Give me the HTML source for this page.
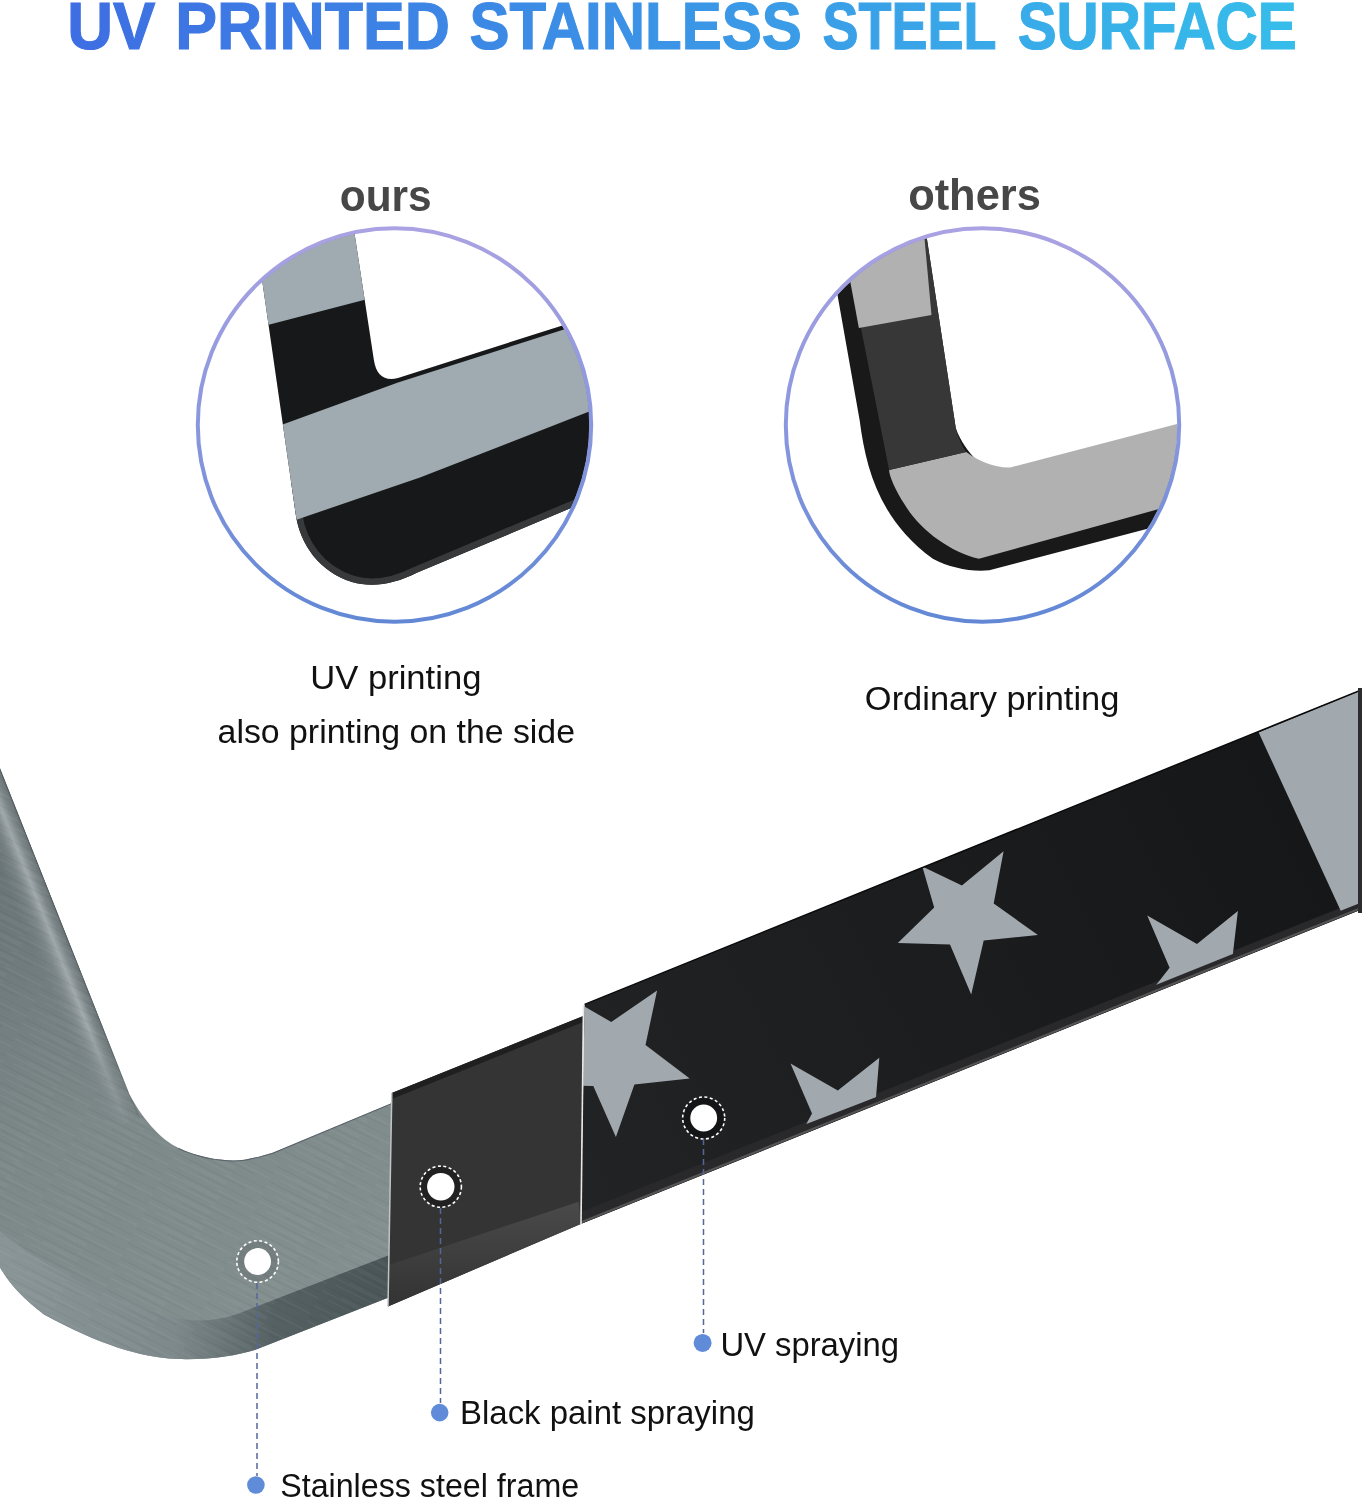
<!DOCTYPE html>
<html><head><meta charset="utf-8">
<style>
html,body{margin:0;padding:0;background:#fff;}
body{width:1362px;height:1500px;overflow:hidden;position:relative;}
svg{position:absolute;left:0;top:0;will-change:transform;}
text{font-family:"Liberation Sans",sans-serif;}
</style></head>
<body>
<svg width="1362" height="1500" viewBox="0 0 1362 1500">
<defs>
  <linearGradient id="tg" x1="70" y1="0" x2="1297" y2="0" gradientUnits="userSpaceOnUse">
    <stop offset="0" stop-color="#3e6ee3"/>
    <stop offset="0.5" stop-color="#3b95e6"/>
    <stop offset="1" stop-color="#36bdea"/>
  </linearGradient>
  <linearGradient id="cg" x1="0" y1="0" x2="0" y2="1">
    <stop offset="0" stop-color="#aaa2e2"/>
    <stop offset="0.5" stop-color="#8a97de"/>
    <stop offset="1" stop-color="#6288d5"/>
  </linearGradient>
  <clipPath id="c1"><circle cx="394.5" cy="425" r="195"/></clipPath>
  <clipPath id="c2"><circle cx="982.5" cy="425" r="195"/></clipPath>
  <clipPath id="f1"><path d="M250.6,200 L295.7,514 C300,545 320,572 352,582 C372,588 395,584 416.8,572.8 L650,474.9 L650,297.5 L398,378 C385,382 376,375 373.9,360 L349.4,200 Z"/></clipPath>
  <clipPath id="starclip"><polygon points="584.6,1004.4 1362,689.5529999999999 1362,902.1360999999999 580.7,1216"/></clipPath>
  <clipPath id="steelclip"><path id="steelpath" d="M0,768 L129.3,1094 C140,1115 160,1140 178.7,1148 C200,1158 225,1162 244.5,1159.8 C255,1158 265,1155 272.7,1152.7 L392,1103 L390,1297 L255.5,1349.7 C235,1356 210,1360 176,1359 C140,1357 100,1345 44,1314.5 C25,1300 10,1285 0,1267.5 Z"/></clipPath>
  <linearGradient id="steel" x1="0" y1="800" x2="300" y2="1300" gradientUnits="userSpaceOnUse">
    <stop offset="0" stop-color="#657072"/>
    <stop offset="0.55" stop-color="#7d8889"/>
    <stop offset="1" stop-color="#838e8f"/>
  </linearGradient>
  <linearGradient id="side" x1="0" y1="0" x2="390" y2="0" gradientUnits="userSpaceOnUse">
    <stop offset="0" stop-color="#8a9597"/>
    <stop offset="0.45" stop-color="#7e898b"/>
    <stop offset="0.7" stop-color="#566163"/>
    <stop offset="1" stop-color="#4a5557"/>
  </linearGradient>
  <linearGradient id="starbg" x1="580" y1="1200" x2="1362" y2="800" gradientUnits="userSpaceOnUse">
    <stop offset="0" stop-color="#222325"/>
    <stop offset="1" stop-color="#151618"/>
  </linearGradient>
  <linearGradient id="bpband" x1="0" y1="1200" x2="0" y2="1306" gradientUnits="userSpaceOnUse">
    <stop offset="0" stop-color="#4a4a4a"/>
    <stop offset="1" stop-color="#333"/>
  </linearGradient>
  <pattern id="brush" patternUnits="userSpaceOnUse" width="97" height="17" patternTransform="rotate(27)">
    <rect x="0" y="0" width="60" height="1" fill="#fff" fill-opacity="0.06"/>
    <rect x="30" y="3" width="67" height="1" fill="#000" fill-opacity="0.04"/>
    <rect x="10" y="6" width="50" height="1" fill="#fff" fill-opacity="0.05"/>
    <rect x="55" y="9" width="42" height="1" fill="#fff" fill-opacity="0.06"/>
    <rect x="0" y="12" width="80" height="1" fill="#000" fill-opacity="0.05"/>
    <rect x="20" y="15" width="40" height="1" fill="#fff" fill-opacity="0.05"/>
  </pattern>
  <linearGradient id="armhl" x1="60" y1="918" x2="22.8" y2="932.8" gradientUnits="userSpaceOnUse">
    <stop offset="0" stop-color="#3f4749"/>
    <stop offset="0.05" stop-color="#6d7779"/>
    <stop offset="0.2" stop-color="#7f898b"/>
    <stop offset="0.36" stop-color="#a0a8aa"/>
    <stop offset="0.6" stop-color="#8a9395" stop-opacity="0.5"/>
    <stop offset="1" stop-color="#727d7f" stop-opacity="0"/>
  </linearGradient>
  <linearGradient id="armfadeg" x1="0" y1="760" x2="0" y2="1140" gradientUnits="userSpaceOnUse">
    <stop offset="0" stop-color="#fff"/>
    <stop offset="0.7" stop-color="#fff"/>
    <stop offset="1" stop-color="#000"/>
  </linearGradient>
  <mask id="armfade" maskUnits="userSpaceOnUse" x="-50" y="700" width="300" height="500"><rect x="-50" y="700" width="300" height="500" fill="url(#armfadeg)"/></mask>
</defs>

<text x="67.13" y="49" font-size="67" font-weight="bold" fill="url(#tg)" stroke="url(#tg)" stroke-width="1.2" textLength="88.1" lengthAdjust="spacingAndGlyphs">UV</text>
<text x="175.15" y="49" font-size="67" font-weight="bold" fill="url(#tg)" stroke="url(#tg)" stroke-width="1.2" textLength="274.74" lengthAdjust="spacingAndGlyphs">PRINTED</text>
<text x="469.47" y="49" font-size="67" font-weight="bold" fill="url(#tg)" stroke="url(#tg)" stroke-width="1.2" textLength="332.32" lengthAdjust="spacingAndGlyphs">STAINLESS</text>
<text x="822.46" y="49" font-size="67" font-weight="bold" fill="url(#tg)" stroke="url(#tg)" stroke-width="1.2" textLength="173.89" lengthAdjust="spacingAndGlyphs">STEEL</text>
<text x="1017.68" y="49" font-size="67" font-weight="bold" fill="url(#tg)" stroke="url(#tg)" stroke-width="1.2" textLength="278.99" lengthAdjust="spacingAndGlyphs">SURFACE</text>
<text x="339.75" y="210.8" font-size="45" font-weight="bold" fill="#474747"  textLength="91.91" lengthAdjust="spacingAndGlyphs">ours</text>
<text x="908.14" y="209.6" font-size="45" font-weight="bold" fill="#474747"  textLength="132.72" lengthAdjust="spacingAndGlyphs">others</text>

<!-- Circle 1 content -->
<g clip-path="url(#c1)">
  <g clip-path="url(#f1)">
    <rect x="200" y="200" width="460" height="440" fill="#17181a"/>
    <path d="M290.8,480 L295.7,514 C300,545 320,572 352,582 C372,588 395,584 416.8,572.8 L650,474.9" fill="none" stroke="#38393b" stroke-width="13"/>
    <polygon points="200,200 650,200 650,225.7 200,342.7" fill="#a0aab1"/>
    <polygon points="200,454.5 398,382.5 650,302 650,385 588,412 420,477.6 297.9,519.2 200,552" fill="#a0aab1"/>
  </g>
</g>
<circle cx="394.5" cy="425" r="196.7" fill="none" stroke="url(#cg)" stroke-width="4"/>

<!-- Circle 2 content -->
<g clip-path="url(#c2)">
  <path d="M820.7,200 L859.6,420 C866,470 880,520 932.8,558.8 C950,568 971,572 989.3,570.3 L1250,502 L1250,440 L1000,470 C985,470 966,455 955.8,428.2 L921,200 Z" fill="#19191a"/>
  <path d="M835.6,200 L889.1,470.1 L966.2,452.1 C980,462 995,468 1009.9,467.5 L1250,405 L1250,484 L979,558.8 C950,552 920,530 905,505 C895,490 889,475 889.1,470.1 Z" fill="#b1b1b1"/>
  <path d="M835.6,200 L889.1,470.1 L966.2,452.1 C962,446 958,438 955.8,428.2 L921,200 Z" fill="#373737"/>
  <polygon points="835,200 921,200 931.5,315 858.9,328" fill="#b1b1b1"/>
</g>
<circle cx="982.5" cy="425" r="196.7" fill="none" stroke="url(#cg)" stroke-width="4"/>

<text x="310.26" y="689" font-size="33.4" font-weight="normal" fill="#111"  textLength="171.13" lengthAdjust="spacingAndGlyphs">UV printing</text>
<text x="217.57" y="742.5" font-size="33.4" font-weight="normal" fill="#111"  textLength="357.46" lengthAdjust="spacingAndGlyphs">also printing on the side</text>
<text x="864.87" y="710" font-size="33.4" font-weight="normal" fill="#111"  textLength="254.46" lengthAdjust="spacingAndGlyphs">Ordinary printing</text>

<!-- Big frame: steel -->
<use href="#steelpath" fill="url(#steel)"/>
<g clip-path="url(#steelclip)">
  <!-- inner edge highlight on left arm -->
  <g mask="url(#armfade)">
    <polygon points="0,768 140,1118 60,1150 -40,900" fill="url(#armhl)"/>
  </g>
  <path d="M178.7,1148 C200,1158 225,1162 244.5,1159.8 C255,1158 265,1155 272.7,1152.7 L392,1103" fill="none" stroke="#59626a" stroke-width="2"/>
  <!-- side face -->
  <path d="M0,1232 C40,1262 100,1300 176,1318 C205,1324 230,1318 250,1309 L392,1254 L392,1400 L0,1400 Z" fill="url(#side)"/>
  <rect x="0" y="700" width="400" height="700" fill="url(#brush)"/>
</g>

<!-- black paint section -->
<polygon points="391.8,1093 583.3,1016 580.7,1224 388,1306.4" fill="#343434"/>
<polygon points="391.8,1093 583.3,1016 583.2,1022 391.7,1099" fill="#1f1f1f"/>
<polygon points="389.7,1264.7 578.7,1201.7 580.7,1224 388,1306.4" fill="url(#bpband)"/>
<line x1="391.8" y1="1093" x2="388" y2="1306.4" stroke="#bfc4c6" stroke-width="1.5"/>

<!-- star section -->
<polygon points="584.6,1004.4 1362,689.5529999999999 1362,909.1360999999999 580.7,1224" fill="url(#starbg)"/>
<polygon points="580.7,1212 1362,899.1360999999999 1362,909.1360999999999 580.7,1224" fill="#29292b"/>
<g clip-path="url(#starclip)" fill="#a2a9ae">
<polygon points="657.1,990.4 645.5,1044.9 689.7,1078.6 634.4,1084.5 615.9,1136.9 593.3,1086.1 537.7,1084.8 579.0,1047.5 563.1,994.2 611.3,1022.0"/>
<polygon points="922.3,866.4 961.9,885.6 1003.6,851.2 993.7,903.4 1037.9,935.1 983.7,940.4 971.2,994.6 950,944.4 897.8,943.1 934.2,907.4"/>
<polygon points="1147.2,915.4 1197,944 1237.9,911 1232.6,956.4 1153.8,988 1169.6,967.8"/>
<polygon points="790.5,1063.4 837.8,1090.6 879.3,1057.7 876,1097.3 806.3,1124 812,1113.5"/>
<polygon points="1258.7,732.5 1362,690 1362,940 1342,913.4"/>
</g>
<line x1="580.7" y1="1222.5" x2="1362" y2="907.6" stroke="#555" stroke-width="2"/>
<line x1="584.6" y1="1004.4" x2="1362" y2="689.6" stroke="#0a0a0a" stroke-width="1.5"/>
<line x1="583.5" y1="1005" x2="581" y2="1224" stroke="#e8e8e8" stroke-width="1.6"/>
<rect x="1358" y="688" width="4" height="225" fill="#2a2c30"/>

<!-- annotation dots on frame -->
<circle cx="257.6" cy="1261.5" r="20" fill="#000" fill-opacity="0.1"/>
<g fill="#000" fill-opacity="0.35">
  <circle cx="440.8" cy="1186.7" r="20"/>
  <circle cx="703.7" cy="1118" r="20"/>
</g>
<g>
  <circle cx="257.6" cy="1261.5" r="13.4" fill="#fff"/>
  <circle cx="257.6" cy="1261.5" r="20.8" fill="none" stroke="#fff" stroke-width="1.6" stroke-dasharray="3 2.5"/>
  <circle cx="440.8" cy="1186.7" r="13.7" fill="#fff"/>
  <circle cx="440.8" cy="1186.7" r="20.6" fill="none" stroke="#fff" stroke-width="1.6" stroke-dasharray="3 2.5"/>
  <circle cx="703.7" cy="1118" r="13.4" fill="#fff"/>
  <circle cx="703.7" cy="1118" r="21" fill="none" stroke="#fff" stroke-width="1.6" stroke-dasharray="3 2.5"/>
</g>
<g stroke="#55679a" stroke-width="1.5" stroke-dasharray="6 4">
  <line x1="257" y1="1283" x2="257" y2="1476"/>
  <line x1="440.5" y1="1208" x2="440.5" y2="1403"/>
  <line x1="703.5" y1="1139" x2="703.5" y2="1333"/>
</g>
<g fill="#5f8bd8">
  <circle cx="255.9" cy="1485" r="8.8"/>
  <circle cx="439.7" cy="1412.6" r="8.8"/>
  <circle cx="702.6" cy="1342.9" r="9"/>
</g>
<text x="720.4" y="1355.5" font-size="33.4" font-weight="normal" fill="#111"  textLength="178.64" lengthAdjust="spacingAndGlyphs">UV spraying</text>
<text x="460.05" y="1424" font-size="33.4" font-weight="normal" fill="#111"  textLength="294.72" lengthAdjust="spacingAndGlyphs">Black paint spraying</text>
<text x="280.21" y="1496.7" font-size="33.4" font-weight="normal" fill="#111"  textLength="298.99" lengthAdjust="spacingAndGlyphs">Stainless steel frame</text>
</svg>
</body></html>
